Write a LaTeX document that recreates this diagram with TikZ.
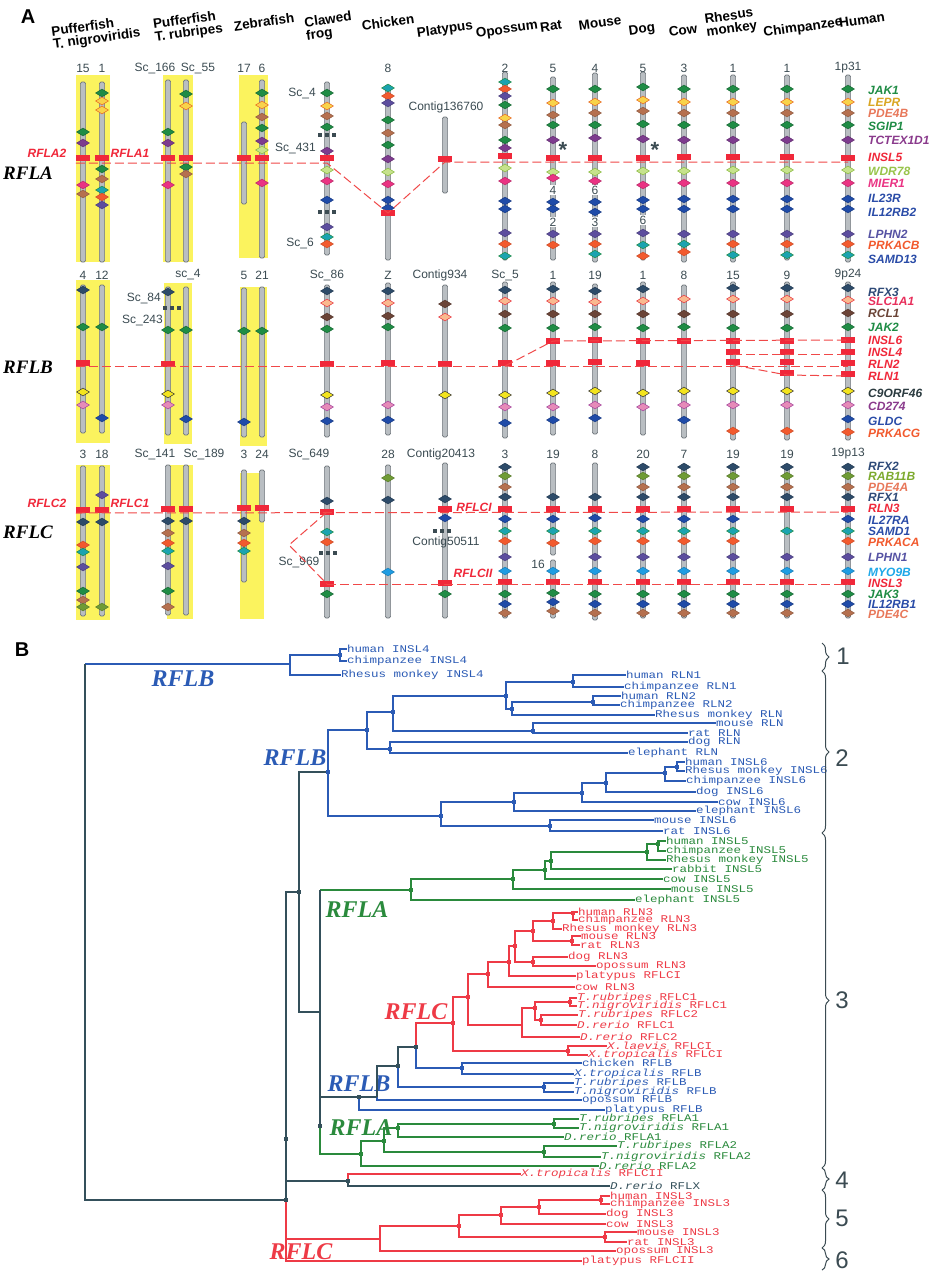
\documentclass[tikz,border=0pt]{standalone}
\usepackage{fontspec}
\setmainfont{Liberation Sans}
\newfontfamily\treefont{Liberation Mono}
\newfontfamily\famfont{Liberation Serif}
\usetikzlibrary{shapes.geometric,decorations.pathreplacing}

% gene colours
\definecolor{cJak}{HTML}{1F8C45}
\definecolor{cLepr}{HTML}{F8D34A}
\definecolor{cLeprE}{HTML}{E8651E}
\definecolor{cPde}{HTML}{B5704F}
\definecolor{cTct}{HTML}{7D3B8E}
\definecolor{cWdr}{HTML}{C6E28C}
\definecolor{cWdrE}{HTML}{88BA3C}
\definecolor{cMier}{HTML}{EA3383}
\definecolor{cIl}{HTML}{1F4BA8}
\definecolor{cLphn}{HTML}{5C4D9E}
\definecolor{cPrk}{HTML}{F25A2E}
\definecolor{cSamd}{HTML}{1BA3B0}
\definecolor{cRfx}{HTML}{2D4B69}
\definecolor{cSlc}{HTML}{F9B98F}
\definecolor{cSlcE}{HTML}{E8303C}
\definecolor{cRcl}{HTML}{6B4437}
\definecolor{cNine}{HTML}{F3E41E}
\definecolor{cCd}{HTML}{E68BB8}
\definecolor{cCdE}{HTML}{A3429C}
\definecolor{cRab}{HTML}{6F9B35}
\definecolor{cMyo}{HTML}{1F9CE2}
\definecolor{cRed}{HTML}{F0283A}
\definecolor{cLink}{HTML}{F04848}
\definecolor{cHilite}{HTML}{FBF35E}
\definecolor{cChrom}{HTML}{B9BEC2}
\definecolor{cChromE}{HTML}{6F767B}
\definecolor{cNum}{HTML}{3B4B52}
% label colours
\definecolor{lGold}{HTML}{D9A521}
\definecolor{lSalmon}{HTML}{E8785A}
\definecolor{lLime}{HTML}{98C44A}
\definecolor{lBlue}{HTML}{2A4CA8}
\definecolor{lSlate}{HTML}{5552A3}
\definecolor{lNavy}{HTML}{2E4A78}
\definecolor{lRose}{HTML}{E8305C}
\definecolor{lDark}{HTML}{2B3B40}
\definecolor{lPurple}{HTML}{8A3A8C}
\definecolor{lOlive}{HTML}{7DAA2E}
\definecolor{lCyan}{HTML}{1FA8E8}
% tree colours
\definecolor{tBlue}{HTML}{2B5BB5}
\definecolor{tGreen}{HTML}{2A8A3C}
\definecolor{tRed}{HTML}{EE3A46}
\definecolor{tDark}{HTML}{34505B}

\tikzset{
  gene/.style={diamond, inner sep=0pt, minimum width=13pt, minimum height=8pt, line width=0.5pt},
  jak/.style={gene, fill=cJak, draw=cJak!75!black},
  lepr/.style={gene, fill=cLepr, draw=cLeprE},
  pde/.style={gene, fill=cPde, draw=cPde!80!black},
  tct/.style={gene, fill=cTct, draw=cTct!80!black},
  wdr/.style={gene, fill=cWdr, draw=cWdrE},
  mier/.style={gene, fill=cMier, draw=cMier!80!black},
  il/.style={gene, fill=cIl, draw=cIl!80!black},
  lphn/.style={gene, fill=cLphn, draw=cLphn!80!black},
  prk/.style={gene, fill=cPrk, draw=cPrk!85!black},
  samd/.style={gene, fill=cSamd, draw=cJak},
  rfx/.style={gene, fill=cRfx, draw=cRfx!80!black},
  slc/.style={gene, fill=cSlc, draw=cSlcE},
  rcl/.style={gene, fill=cRcl, draw=cRcl!80!black},
  nine/.style={gene, fill=cNine, draw=black!80},
  cd/.style={gene, fill=cCd, draw=cCdE},
  rab/.style={gene, fill=cRab, draw=cRab!80!black},
  myo/.style={gene, fill=cMyo, draw=cMyo!80!black},
  insl/.style={rectangle, fill=cRed, inner sep=0pt, minimum width=14pt, minimum height=5.5pt},
  chrom/.style={draw=cChromE, fill=cChrom, line width=0.6pt, rounded corners=1.5pt},
  hilite/.style={fill=cHilite},
  link/.style={draw=cLink, line width=1pt, dash pattern=on 9pt off 4pt},
  num/.style={text=cNum, inner sep=1pt, font=\fontsize{12}{12}\selectfont},
  inbar/.style={num, fill=white},
  species/.style={rotate=8, align=left, font=\fontsize{13.5}{13}\selectfont\bfseries},
  genelab/.style={anchor=west, inner sep=0pt, font=\fontsize{12}{12}\selectfont\bfseries\itshape},
  redlab/.style={text=cRed, font=\fontsize{12}{12}\selectfont\bfseries\itshape},
  famA/.style={font=\famfont\fontsize{19}{19}\selectfont\bfseries\itshape},
  famT/.style={font=\famfont\fontsize{24}{24}\selectfont\bfseries\itshape},
  nd/.style={rectangle, fill=#1, minimum size=4.5pt, inner sep=0pt},
  lf/.style={anchor=west, inner sep=0pt, yscale=0.82, text=#1, font=\treefont\fontsize{12.5}{12.5}\selectfont},
  branch/.style={draw=#1, line width=1.1pt},
  grp/.style={draw=cNum, line width=1pt, decorate, decoration={brace, amplitude=7pt}},
  grpnum/.style={text=cNum, font=\fontsize{24}{24}\selectfont}
}

\newcommand\chromo[3]{\draw[chrom] (#1-2.6,#2) rectangle (#1+2.6,#3);}
\newcommand\genes[2]{\edef\glist{#2}%
  \foreach \gy/\gc in \glist {\node[\gc] (d#1y\gy) at (#1,\gy) {};}}
\newcommand\dotbreak[2]{\foreach \d in {-7,0,7}
  {\fill[cNum] ([xshift=\d pt]#1-1.8,#2-1.8) rectangle ++(3.6,3.6);}}

\begin{document}
\begin{tikzpicture}[x=1pt, y=-1pt]
\useasboundingbox (0,0) rectangle (933,1280);
\fill[white] (0,0) rectangle (933,1280);

%%%%% panel A
\node[font=\fontsize{20}{20}\selectfont\bfseries] (lblA) at (28,17) {A};
\node[species] (hdTn) at (96,33) {Pufferfish\\T. nigroviridis};
\node[species] (hdTr) at (188,27) {Pufferfish\\T. rubripes};
\node[species] (hdZf) at (264,22) {Zebrafish};
\node[species] (hdFr) at (329,27) {Clawed\\frog};
\node[species] (hdCh) at (388,22) {Chicken};
\node[species] (hdPl) at (445,30) {Platypus};
\node[species] (hdOp) at (507,30) {Opossum};
\node[species] (hdRa) at (551,26) {Rat};
\node[species] (hdMo) at (600,23) {Mouse};
\node[species] (hdDo) at (642,30) {Dog};
\node[species] (hdCo) at (683,30) {Cow};
\node[species] (hdRh) at (731,23) {Rhesus\\monkey};
\node[species] (hdCm) at (803,28) {Chimpanzee};
\node[species] (hdHu) at (862,20) {Human};

% fish boxes
\fill[hilite] (76,75) rectangle (110,262);
\fill[hilite] (163,75) rectangle (193,262);
\fill[hilite] (239,75) rectangle (268,258);
\fill[hilite] (76,280) rectangle (110,443);
\fill[hilite] (164,283) rectangle (192,444);
\fill[hilite] (240,287) rectangle (267,446);
\fill[hilite] (76,465) rectangle (110,620);
\fill[hilite] (167,465) rectangle (193,619);
\fill[hilite] (240,473) rectangle (264,619);

% chromosomes
\foreach \x/\t/\b in {83/82/262,102/82/262,168/80/262,186/80/262,244/122/204,262/80/258,327/82/255,388/85/260,445/117/193,505/72/260,553/77/260,595/73/262,643/72/260,684/75/262,733/75/262,787/75/260,848/75/262}
  {\chromo{\x}{\t}{\b}}
\foreach \x/\t/\b in {83/285/433,102/285/433,168/287/435,186/287/435,244/288/437,262/287/437,327/285/437,388/283/435,445/285/437,505/282/438,553/282/435,595/284/434,643/282/435,684/285/438,733/282/440,787/282/440,848/282/440}
  {\chromo{\x}{\t}{\b}}
\foreach \x/\t/\b in {83/466/616,102/466/616,168/465/615,186/465/615,244/470/582,262/470/522,327/466/618,388/465/618,445/463/618,505/465/618,553/463/555,553/560/618,595/463/620,643/465/618,684/465/618,733/465/618,787/465/618,848/465/618}
  {\chromo{\x}{\t}{\b}}

% column numbers
\foreach \x/\t in {83/15,102/1,155/Sc\_166,198/Sc\_55,244/17,262/6,388/8,505/2,553/5,595/4,643/5,684/3,733/1,787/1,848/1p31}
  {\node[num] (nmA\x) at (\x,68) {\t};}
\foreach \x/\t in {83/4,102/12,188/sc\_4,244/5,262/21,327/Sc\_86,388/Z,440/Contig934,505/Sc\_5,553/1,595/19,643/1,684/8,733/15,787/9,848/9p24}
  {\node[num] (nmB\x) at (\x,275) {\t};}
\foreach \x/\t in {83/3,102/18,155/Sc\_141,204/Sc\_189,244/3,262/24,309/Sc\_649,388/28,441/Contig20413,505/3,553/19,595/8,643/20,684/7,733/19,787/19,848/19p13}
  {\node[num] (nmC\x) at (\x,454) {\t};}
\node[num] (ctg1) at (446,107) {Contig136760};
\node[num, anchor=east] (sc4) at (317,93) {Sc\_4};
\node[num, anchor=east] (sc431) at (317,148) {Sc\_431};
\node[num, anchor=east] (sc6) at (315,243) {Sc\_6};
\node[num, anchor=east] (sc84) at (162,298) {Sc\_84};
\node[num, anchor=east] (sc243) at (164,320) {Sc\_243};
\node[num] (ctg2) at (446,542) {Contig50511};
\node[num] (sc969) at (299,562) {Sc\_969};
\node[num] (rat16) at (538,564) {16};
\dotbreak{327}{135}
\dotbreak{327}{212}
\dotbreak{172}{308}
\dotbreak{442}{531}
\dotbreak{328}{553}

% RFLA genes
\genes{83}{132/jak,143/tct,185/mier,194/pde}
\genes{102}{93/jak,101/lepr,110/lepr,169/jak,179/pde,190/samd,197/prk,205/lphn}
\genes{168}{132/jak,143/tct,185/mier}
\genes{186}{94/jak,106/lepr,167/jak,174/pde}
\genes{262}{93/jak,105/lepr,117/pde,128/jak,141/tct,150/wdr,183/mier}
\genes{327}{93/jak,106/lepr,116/pde,127/jak,151/tct,170/wdr,181/mier,200/il,227/lphn,237/samd,244/prk}
\genes{388}{88/samd,96/prk,103/lphn,120/jak,133/pde,145/jak,159/tct,172/wdr,184/mier,200/il,208/il}
\genes{505}{82/samd,89/prk,96/lphn,105/jak,118/lepr,125/pde,140/jak,148/tct,168/wdr,181/mier,201/il,209/il,233/lphn,244/prk,256/samd}
\genes{553}{89/jak,103/lepr,115/pde,125/jak,140/tct,172/wdr,178/mier,202/il,209/il,234/lphn,245/prk}
\genes{595}{89/jak,102/lepr,113/pde,125/jak,138/tct,172/wdr,181/mier,202/il,212/il,234/lphn,244/prk,254/samd}
\genes{643}{87/jak,100/lepr,111/pde,124/jak,139/tct,171/wdr,185/mier,200/il,209/il,233/lphn,245/samd,256/prk}
\genes{684}{89/jak,102/lepr,113/pde,125/jak,140/tct,171/wdr,183/mier,199/il,209/il,234/lphn,244/samd,252/prk}
\def\mamA{89/jak,102/lepr,113/pde,125/jak,140/tct,170/wdr,183/mier,199/il,209/il,234/lphn,244/prk,255/samd}
\foreach \x in {733,787,848} {\genes{\x}{\mamA}}
\node[inbar] (rat4) at (553,190) {4};
\node[inbar] (rat2) at (553,222) {2};
\node[inbar] (mou6) at (595,190) {6};
\node[inbar] (mou3) at (595,222) {3};
\node[inbar] (dog6) at (643,220) {6};
\node[text=cNum, font=\fontsize{22}{22}\selectfont\bfseries] (astRat) at (563,150) {*};
\node[text=cNum, font=\fontsize{22}{22}\selectfont\bfseries] (astDog) at (655,150) {*};

% RFLB genes
\genes{83}{290/rfx,327/jak,392/nine,405/cd}
\genes{102}{327/jak,418/il}
\genes{168}{292/rfx,330/jak,394/nine,405/cd}
\genes{186}{330/jak,419/il}
\genes{244}{331/jak,422/il}
\genes{262}{331/jak}
\genes{327}{291/rfx,303/slc,317/rcl,329/jak,395/nine,407/cd,421/il}
\genes{388}{291/rfx,303/slc,316/rcl,327/jak,405/cd,420/il}
\genes{445}{304/rcl,317/slc,395/nine}
\genes{505}{290/rfx,301/slc,314/rcl,328/jak,395/nine,407/cd,423/il}
\genes{553}{289/rfx,301/slc,314/rcl,328/jak,393/nine,407/cd,420/il}
\genes{595}{291/rfx,302/slc,314/rcl,327/jak,391/nine,405/cd,418/il}
\genes{643}{289/rfx,301/slc,314/rcl,328/jak,393/nine,407/cd}
\genes{684}{299/slc,314/rcl,327/jak,391/nine,405/cd,420/il}
\def\primB{288/rfx,299/slc,314/rcl,328/jak,391/nine,405/cd,431/prk}
\genes{733}{\primB}
\genes{787}{\primB}
\genes{848}{288/rfx,300/slc,313/rcl,327/jak,391/nine,405/cd,419/il,432/prk}

% RFLC genes
\genes{83}{522/rfx,545/prk,552/samd,567/lphn,591/jak,600/pde,607/rab}
\genes{102}{495/lphn,522/rfx,607/rab}
\genes{168}{521/rfx,533/pde,543/prk,551/samd,566/lphn,591/jak,607/pde}
\genes{186}{521/rfx}
\genes{244}{521/rfx,533/pde,543/prk,551/samd}
\genes{327}{501/rfx,532/samd,542/prk,594/jak}
\genes{388}{478/rab,500/rfx,572/myo}
\genes{445}{499/rfx,518/il,594/jak}
\def\fullC{467/rfx,476/rab,487/pde,497/rfx,519/il,531/samd,541/prk,557/lphn,571/myo,594/jak,604/il,613/pde}
\foreach \x in {505,643,684,733,848} {\genes{\x}{\fullC}}
\genes{553}{497/rfx,519/il,531/samd,543/prk,571/myo,593/jak,602/il,611/pde}
\genes{595}{497/rfx,518/il,531/samd,541/prk,557/lphn,571/myo,594/jak,604/il,613/pde}
\genes{787}{467/rfx,476/rab,487/pde,497/rfx,531/samd,557/lphn,571/myo,594/jak,604/il,613/pde}

% relaxin family loci
\foreach \n/\x/\y in {aTn15/83/158,aTn1/102/158,aRu166/168/158,aRu55/186/158,aZe17/244/158,aZe6/262/158,aFr/327/158,aCh/388/213,aPl/445/159,aOp/505/156,aRa/553/158,aMo/595/158,aDo/643/158,aCo/684/157,aRh/733/157,aCm/787/157,aHu/848/158}
  {\node[insl] (\n) at (\x,\y) {};}
\foreach \n/\x/\y in {bTn4/83/363,bRu/168/364,bFr/327/364,bCh/388/363,bPl/445/364,bOp/505/363,bRaS/553/341,bRaN/553/363,bMoS/595/340,bMoN/595/362,bDoS/643/341,bDoN/643/363,bCoS/684/341,bRhS/733/341,bRhF/733/352,bRhN/733/362,bCmS/787/341,bCmF/787/352,bCmN/787/362,bCmO/787/373,bHuS/848/340,bHuF/848/352,bHuN/848/363,bHuO/848/374}
  {\node[insl] (\n) at (\x,\y) {};}
\foreach \n/\x/\y in {cTn3/83/510,cTn18/102/510,cRu141/168/509,cRu189/186/509,cZe3/244/508,cZe24/262/508,cFrI/327/512,cFrII/327/584,cPlI/445/509,cPlII/445/583}
  {\node[insl] (\n) at (\x,\y) {};}
\foreach \x in {505,553,595,643,684,733,787,848}
  {\node[insl] (cI\x) at (\x,509) {}; \node[insl] (cII\x) at (\x,582) {};}

\draw[link] ([yshift=-5pt]aTn15.west) -- ([yshift=-5pt]aFr.center) -- (aCh.center) -- ([yshift=-3pt]aPl.center) -- ([yshift=-4pt]aHu.center);
\draw[link] ([yshift=-3pt]bTn4.west) -- ([yshift=-3pt]bOp.center) -- ([yshift=-3pt]bHuN.center);
\draw[link] ([yshift=-3pt]bOp.center) -- (bRaS.center) -- (bHuS.center);
\draw[link] ([yshift=-2pt]bRhF.center) -- ([yshift=-2pt]bHuF.center);
\draw[link] ([yshift=-3pt]bRhN.center) -- ([yshift=-2pt]bCmO.center) -- ([yshift=-2pt]bHuO.center);
\draw[link] ([yshift=-3pt]cTn3.west) -- ([yshift=-3pt]cI848.center);
\draw[link] (cFrII.center) -- (cFrII -| cII848);
\coordinate (scV) at (289,545);
\draw[link] (cFrI.center) -- (scV) -- (cFrII.center);

% family labels
\node[famA] (famRFLA) at (28,173) {RFLA};
\node[famA] (famRFLB) at (28,367) {RFLB};
\node[famA] (famRFLC) at (28,532) {RFLC};
\node[redlab] (rA2) at (47,153) {RFLA2};
\node[redlab] (rA1) at (130,153) {RFLA1};
\node[redlab] (rC2) at (47,503) {RFLC2};
\node[redlab] (rC1) at (130,503) {RFLC1};
\node[redlab] (rCI) at (474,507) {RFLCI};
\node[redlab] (rCII) at (473,573) {RFLCII};

% human gene names
\foreach \y/\col/\g in {90/cJak/JAK1,102/lGold/LEPR,113/lSalmon/PDE4B,126/cJak/SGIP1,140/lPurple/TCTEX1D1,157/cRed/INSL5,171/lLime/WDR78,183/cMier/MIER1,198/lBlue/IL23R,212/lBlue/IL12RB2,234/lSlate/LPHN2,245/cPrk/PRKACB,259/lBlue/SAMD13,
  292/lNavy/RFX3,301/lRose/SLC1A1,313/cRcl/RCL1,327/cJak/JAK2,340/cRed/INSL6,352/cRed/INSL4,364/cRed/RLN2,376/cRed/RLN1,393/lDark/C9ORF46,406/lPurple/CD274,421/lBlue/GLDC,433/cPrk/PRKACG,
  466/lNavy/RFX2,476/lOlive/RAB11B,487/lSalmon/PDE4A,497/lNavy/RFX1,508/cRed/RLN3,520/lBlue/IL27RA,531/lBlue/SAMD1,542/cPrk/PRKACA,557/lSlate/LPHN1,572/lCyan/MYO9B,583/cRed/INSL3,594/cJak/JAK3,604/lBlue/IL12RB1,614/lSalmon/PDE4C}
  {\node[genelab, text=\col] (g\g) at (868,\y) {\g};}

%%%%% panel B
\node[font=\fontsize{20}{20}\selectfont\bfseries] (lblB) at (22,650) {B};

% RFLB, INSL4
\coordinate (root) at (85,664);
\coordinate (nI4) at (290,664);
\node[nd=tBlue] (nI4a) at (340,655) {};
\node[lf=tBlue] (lI4h) at (347,649) {human INSL4};
\node[lf=tBlue] (lI4c) at (347,661) {chimpanzee INSL4};
\node[lf=tBlue] (lI4r) at (341,675) {Rhesus monkey INSL4};
\draw[branch=tBlue] (root) -- (nI4) (nI4) |- (nI4a) (nI4) |- (lI4r.west) (nI4a) |- (lI4h.west) (nI4a) |- (lI4c.west);
\node[famT, text=tBlue] (tB1) at (183,679) {RFLB};

% RFLB, RLN and INSL6
\node[nd=tBlue] (nB) at (328,772) {};
\node[nd=tBlue] (nB1) at (367,730) {};
\node[nd=tBlue] (nB2) at (393,712) {};
\node[nd=tBlue] (nB3) at (390,749) {};
\node[nd=tBlue] (nB4) at (506,696) {};
\node[nd=tBlue] (nB4b) at (512,709) {};
\node[nd=tBlue] (nB5) at (533,731) {};
\node[nd=tBlue] (nR1) at (573,682) {};
\node[nd=tBlue] (nR2) at (593,702) {};
\node[nd=tBlue] (nB6) at (441,816) {};
\node[nd=tBlue] (nB7) at (514,802) {};
\node[nd=tBlue] (nB8) at (550,826) {};
\node[nd=tBlue] (nB9) at (582,793) {};
\node[nd=tBlue] (nB10) at (606,783) {};
\node[nd=tBlue] (nB11) at (665,773) {};
\node[nd=tBlue] (nB12) at (677,767) {};
\node[lf=tBlue] (lR1h) at (626,675) {human RLN1};
\node[lf=tBlue] (lR1c) at (624,687) {chimpanzee RLN1};
\node[lf=tBlue] (lR2h) at (621,696) {human RLN2};
\node[lf=tBlue] (lR2c) at (620,705) {chimpanzee RLN2};
\node[lf=tBlue] (lRhR) at (655,715) {Rhesus monkey RLN};
\node[lf=tBlue] (lMoR) at (716,723) {mouse RLN};
\node[lf=tBlue] (lRaR) at (688,733) {rat RLN};
\node[lf=tBlue] (lDoR) at (688,742) {dog RLN};
\node[lf=tBlue] (lElR) at (628,753) {elephant RLN};
\node[lf=tBlue] (l6Hu) at (685,762) {human INSL6};
\node[lf=tBlue] (l6Rh) at (685,771) {Rhesus monkey INSL6};
\node[lf=tBlue] (l6Cm) at (686,781) {chimpanzee INSL6};
\node[lf=tBlue] (l6Do) at (696,792) {dog INSL6};
\node[lf=tBlue] (l6Co) at (718,802) {cow INSL6};
\node[lf=tBlue] (l6El) at (696,811) {elephant INSL6};
\node[lf=tBlue] (l6Mo) at (654,820) {mouse INSL6};
\node[lf=tBlue] (l6Ra) at (663,831) {rat INSL6};
\draw[branch=tBlue] (nB) |- (nB1) (nB) |- (nB6)
  (nB1) |- (nB2) (nB1) |- (nB3) (nB2) |- (nB4) (nB2) |- (nB5)
  (nB4) |- (nR1) (nB4) |- (nB4b) (nR1) |- (lR1h.west) (nR1) |- (lR1c.west)
  (nB4b) |- (nR2) (nB4b) |- (lRhR.west) (nR2) |- (lR2h.west) (nR2) |- (lR2c.west)
  (nB5) |- (lMoR.west) (nB5) |- (lRaR.west) (nB3) |- (lDoR.west) (nB3) |- (lElR.west)
  (nB6) |- (nB7) (nB6) |- (nB8) (nB7) |- (nB9) (nB7) |- (l6El.west)
  (nB9) |- (nB10) (nB9) |- (l6Co.west) (nB10) |- (nB11) (nB10) |- (l6Do.west)
  (nB11) |- (nB12) (nB11) |- (l6Cm.west) (nB12) |- (l6Hu.west) (nB12) |- (l6Rh.west)
  (nB8) |- (l6Mo.west) (nB8) |- (l6Ra.west);
\node[famT, text=tBlue] (tB2) at (295,758) {RFLB};

% backbone
\node[nd=tDark] (n299) at (299,892) {};
\coordinate (n320) at (320,1012);
\node[nd=tDark] (nF) at (320,1126) {};
\node[nd=tDark] (nM1) at (286,1139) {};
\node[nd=tDark] (nM2) at (286,1200) {};
\node[nd=tDark] (nX) at (348,1181) {};

% RFLA, INSL5
\node[nd=tGreen] (nA5) at (411,890) {};
\node[nd=tGreen] (nA6) at (513,879) {};
\node[nd=tGreen] (nA7) at (545,870) {};
\node[nd=tGreen] (nA8) at (551,861) {};
\node[nd=tGreen] (nA9) at (647,852) {};
\node[nd=tGreen] (nA10) at (658,844) {};
\node[lf=tGreen] (l5Hu) at (666,841) {human INSL5};
\node[lf=tGreen] (l5Cm) at (666,851) {chimpanzee INSL5};
\node[lf=tGreen] (l5Rh) at (666,860) {Rhesus monkey INSL5};
\node[lf=tGreen] (l5Rb) at (672,869) {rabbit INSL5};
\node[lf=tGreen] (l5Co) at (663,879) {cow INSL5};
\node[lf=tGreen] (l5Mo) at (671,889) {mouse INSL5};
\node[lf=tGreen] (l5El) at (635,900) {elephant INSL5};
\draw[branch=tGreen] (n320 |- nA5) -- (nA5)
  (nA5) |- (nA6) (nA5) |- (l5El.west) (nA6) |- (nA7) (nA6) |- (l5Mo.west)
  (nA7) |- (nA8) (nA7) |- (l5Co.west) (nA8) |- (nA9) (nA8) |- (l5Rb.west)
  (nA9) |- (nA10) (nA9) |- (l5Rh.west) (nA10) |- (l5Hu.west) (nA10) |- (l5Cm.west);
\node[famT, text=tGreen] (tA1) at (357,910) {RFLA};

% RFLC, RLN3
\node[nd=tRed] (nC) at (453,1023) {};
\node[nd=tRed] (nC1) at (468,997) {};
\node[nd=tRed] (nC2) at (488,974) {};
\node[nd=tRed] (nC3) at (509,962) {};
\node[nd=tRed] (nC4) at (515,946) {};
\node[nd=tRed] (nC5) at (533,931) {};
\node[nd=tRed] (nC6) at (553,921) {};
\node[nd=tRed] (nHC) at (573,913) {};
\node[nd=tRed] (nMR) at (572,941) {};
\node[nd=tRed] (nDO) at (533,962) {};
\coordinate (nFC) at (522,1025);
\node[nd=tRed] (nFC1) at (535,1008) {};
\node[nd=tRed] (nTR1) at (570,1002) {};
\node[nd=tRed] (nFC2) at (541,1020) {};
\node[nd=tRed] (nXL) at (568,1051) {};
\node[lf=tRed] (l3Hu) at (578,912) {human RLN3};
\node[lf=tRed] (l3Cm) at (578,920) {chimpanzee RLN3};
\node[lf=tRed] (l3Rh) at (562,929) {Rhesus monkey RLN3};
\node[lf=tRed] (l3Mo) at (581,936) {mouse RLN3};
\node[lf=tRed] (l3Ra) at (580,945) {rat RLN3};
\node[lf=tRed] (l3Do) at (568,957) {dog RLN3};
\node[lf=tRed] (l3Op) at (596,966) {opossum RLN3};
\node[lf=tRed] (lPlC1) at (576,976) {platypus RFLCI};
\node[lf=tRed] (l3Co) at (575,987) {cow RLN3};
\node[lf=tRed] (lTrC1) at (577,998) {\textit{T.rubripes} RFLC1};
\node[lf=tRed] (lTnC1) at (577,1006) {\textit{T.nigroviridis} RFLC1};
\node[lf=tRed] (lTrC2) at (578,1015) {\textit{T.rubripes} RFLC2};
\node[lf=tRed] (lDrC1) at (577,1025) {\textit{D.rerio} RFLC1};
\node[lf=tRed] (lDrC2) at (580,1037) {\textit{D.rerio} RFLC2};
\node[lf=tRed] (lXlC) at (607,1046) {\textit{X.laevis} RFLCI};
\node[lf=tRed] (lXtC) at (588,1055) {\textit{X.tropicalis} RFLCI};
\draw[branch=tRed] (nC) |- (nC1) (nC) |- (nXL) (nC1) |- (nC2) (nC1) |- (nFC)
  (nC2) |- (nC3) (nC2) |- (l3Co.west) (nC3) |- (nC4) (nC3) |- (lPlC1.west)
  (nC4) |- (nC5) (nC4) |- (nDO) (nC5) |- (nC6) (nC5) |- (nMR)
  (nC6) |- (nHC) (nC6) |- (l3Rh.west) (nHC) |- (l3Hu.west) (nHC) |- (l3Cm.west)
  (nMR) |- (l3Mo.west) (nMR) |- (l3Ra.west) (nDO) |- (l3Do.west) (nDO) |- (l3Op.west)
  (nFC) |- (nFC1) (nFC) |- (lDrC2.west) (nFC1) |- (nTR1) (nFC1) |- (nFC2)
  (nTR1) |- (lTrC1.west) (nTR1) |- (lTnC1.west) (nFC2) |- (lTrC2.west) (nFC2) |- (lDrC1.west)
  (nXL) |- (lXlC.west) (nXL) |- (lXtC.west);
\node[famT, text=tRed] (tC1) at (416,1012) {RFLC};

% RFLB, fish to marsupial
\node[nd=tDark] (nRB) at (359,1097) {};
\coordinate (nRB2) at (377,1097);
\node[nd=tDark] (nRB3) at (398,1066) {};
\node[nd=tDark] (nRB4) at (416,1047) {};
\node[nd=tBlue] (nCX) at (462,1068) {};
\node[nd=tBlue] (nTR) at (544,1087) {};
\node[lf=tBlue] (lChB) at (582,1063) {chicken RFLB};
\node[lf=tBlue] (lXtB) at (574,1074) {\textit{X.tropicalis} RFLB};
\node[lf=tBlue] (lTrB) at (574,1083) {\textit{T.rubripes} RFLB};
\node[lf=tBlue] (lTnB) at (574,1092) {\textit{T.nigroviridis} RFLB};
\node[lf=tBlue] (lOpB) at (582,1100) {opossum RFLB};
\node[lf=tBlue] (lPlB) at (605,1110) {platypus RFLB};
\draw[branch=tBlue] (nRB) |- (lPlB.west) (nRB2) |- (lOpB.west) (nRB3) |- (nTR) (nRB4) |- (nCX)
  (nCX) |- (lChB.west) (nCX) |- (lXtB.west) (nTR) |- (lTrB.west) (nTR) |- (lTnB.west);
\draw[branch=tRed] (nRB4) |- (nC);
\node[famT, text=tBlue] (tB3) at (359,1084) {RFLB};

% RFLA, fish
\node[nd=tGreen] (nA2) at (361,1154) {};
\node[nd=tGreen] (nA3) at (384,1141) {};
\node[nd=tGreen] (nA4) at (398,1128) {};
\node[nd=tGreen] (nTR3) at (554,1124) {};
\node[nd=tGreen] (nTR2) at (544,1152) {};
\node[lf=tGreen] (lTrA1) at (579,1119) {\textit{T.rubripes} RFLA1};
\node[lf=tGreen] (lTnA1) at (579,1128) {\textit{T.nigroviridis} RFLA1};
\node[lf=tGreen] (lDrA1) at (564,1137) {\textit{D.rerio} RFLA1};
\node[lf=tGreen] (lTrA2) at (617,1146) {\textit{T.rubripes} RFLA2};
\node[lf=tGreen] (lTnA2) at (601,1157) {\textit{T.nigroviridis} RFLA2};
\node[lf=tGreen] (lDrA2) at (599,1166) {\textit{D.rerio} RFLA2};
\draw[branch=tGreen] (nF) |- (nA2) (nA2) |- (nA3) (nA2) |- (lDrA2.west)
  (nA3) |- (nA4) (nA3) |- (nTR2) (nA4) |- (nTR3) (nA4) |- (lDrA1.west)
  (nTR3) |- (lTrA1.west) (nTR3) |- (lTnA1.west) (nTR2) |- (lTrA2.west) (nTR2) |- (lTnA2.west);
\node[famT, text=tGreen] (tA2) at (361,1128) {RFLA};

% RFLCII and RFLX
\node[lf=tRed] (lXtC2) at (521,1174) {\textit{X.tropicalis} RFLCII};
\node[lf=tDark] (lDrX) at (610,1186) {\textit{D.rerio} RFLX};
\draw[branch=tRed] (nX) |- (lXtC2.west);
\draw[branch=tDark] (nX) |- (lDrX.west);

% RFLC, INSL3
\coordinate (nI3) at (380,1239);
\node[nd=tRed] (nI3a) at (459,1226) {};
\node[nd=tRed] (nI3b) at (501,1215) {};
\node[nd=tRed] (nI3c) at (539,1207) {};
\node[nd=tRed] (nHC3) at (601,1200) {};
\node[nd=tRed] (nMR3) at (605,1237) {};
\node[lf=tRed] (lI3Hu) at (610,1196) {human INSL3};
\node[lf=tRed] (lI3Cm) at (610,1204) {chimpanzee INSL3};
\node[lf=tRed] (lI3Do) at (606,1214) {dog INSL3};
\node[lf=tRed] (lI3Co) at (606,1224) {cow INSL3};
\node[lf=tRed] (lI3Mo) at (637,1232) {mouse INSL3};
\node[lf=tRed] (lI3Ra) at (627,1242) {rat INSL3};
\node[lf=tRed] (lI3Op) at (616,1251) {opossum INSL3};
\node[lf=tRed] (lPlC2) at (582,1261) {platypus RFLCII};
\draw[branch=tRed] (nM2) |- (nI3) (nM2) |- (lPlC2.west) (nI3) |- (nI3a) (nI3) |- (lI3Op.west)
  (nI3a) |- (nI3b) (nI3a) |- (nMR3) (nI3b) |- (nI3c) (nI3b) |- (lI3Co.west)
  (nI3c) |- (nHC3) (nI3c) |- (lI3Do.west) (nHC3) |- (lI3Hu.west) (nHC3) |- (lI3Cm.west)
  (nMR3) |- (lI3Mo.west) (nMR3) |- (lI3Ra.west);
\node[famT, text=tRed] (tC2) at (301,1252) {RFLC};

% dark backbone on top
\draw[branch=tDark] (root) |- (nM2) (nM1) |- (n299) (nM1) -- (nM2) (nM1) |- (nX)
  (n299) |- (nB) (n299) |- (n320) (n320) -- (n320 |- nA5) (n320) -- (nF)
  (nF) |- (nRB) (nRB) -- (nRB2) (nRB2) |- (nRB3) (nRB3) |- (nRB4);

% groups
\draw[grp] (822,643) -- (822,671);
\draw[grp] (822,671) -- (822,833);
\draw[grp] (822,833) -- (822,1168);
\draw[grp] (822,1168) -- (822,1190);
\draw[grp] (822,1190) -- (822,1248);
\draw[grp] (822,1248) -- (822,1270);
\node[grpnum] (k1) at (843,656) {1};
\node[grpnum] (k2) at (842,758) {2};
\node[grpnum] (k3) at (842,1000) {3};
\node[grpnum] (k4) at (842,1180) {4};
\node[grpnum] (k5) at (842,1218) {5};
\node[grpnum] (k6) at (842,1260) {6};
\end{tikzpicture}
\end{document}
